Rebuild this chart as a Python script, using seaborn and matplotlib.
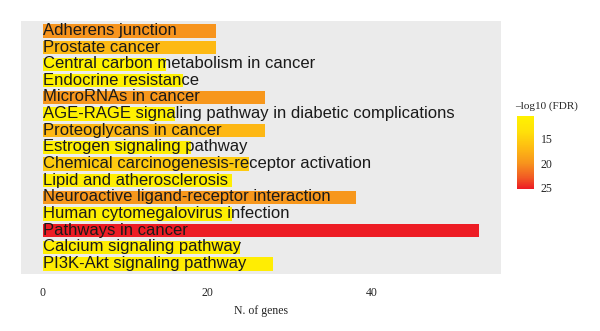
import matplotlib
matplotlib.use("Agg")
import matplotlib.pyplot as plt
import matplotlib.colors as mcolors
import seaborn as sns
import pandas as pd
import numpy as np

terms = [
    "Adherens junction",
    "Prostate cancer",
    "Central carbon metabolism in cancer",
    "Endocrine resistance",
    "MicroRNAs in cancer",
    "AGE-RAGE signaling pathway in diabetic complications",
    "Proteoglycans in cancer",
    "Estrogen signaling pathway",
    "Chemical carcinogenesis-receptor activation",
    "Lipid and atherosclerosis",
    "Neuroactive ligand-receptor interaction",
    "Human cytomegalovirus infection",
    "Pathways in cancer",
    "Calcium signaling pathway",
    "PI3K-Akt signaling pathway",
]
n_genes = [21, 21, 15, 17, 27, 16, 27, 18, 25, 23, 38, 23, 53, 24, 28]
neg_log10_fdr = [20.0, 17.0, 10.2, 10.6, 19.8, 10.6, 17.2, 10.8, 15.5, 11.0, 19.8, 10.8, 25.3, 11.0, 11.2]
cbar_ticks = [15, 20, 25]

df = pd.DataFrame({"term": terms, "genes": n_genes, "fdr": neg_log10_fdr})

cmap = mcolors.LinearSegmentedColormap.from_list(
    "ylred", [(0.0, "#FFF200"), (0.22, "#FFE00A"), (0.45, "#FDB913"),
              (0.65, "#F7941D"), (0.85, "#F15A24"), (1.0, "#ED1C24")])
norm = mcolors.Normalize(vmin=min(neg_log10_fdr), vmax=max(neg_log10_fdr))
colors = [cmap(norm(v)) for v in neg_log10_fdr]

sns.set_theme(style="white")
plt.rcParams["font.family"] = ["Liberation Serif", "DejaVu Serif"]

fig = plt.figure(figsize=(6.0, 3.31), dpi=100)
ax = fig.add_axes([0.035, 0.172, 0.80, 0.765])
ax.set_facecolor("#EBEBEB")

sns.barplot(data=df, x="genes", y="term", hue="term", palette=colors,
            legend=False, width=0.8, ax=ax, saturation=1, orient="h",
            edgecolor="none", linewidth=0)

for i, t in enumerate(terms):
    ax.text(0, i - 0.03, t, ha="left", va="center", fontsize=12,
            family=["Liberation Sans", "DejaVu Sans"], color="#1a1a1a")

ax.set_xlim(-2.65, 55.65)
ax.set_ylim(len(terms) - 0.4, -0.6)
ax.set_xticks([0, 20, 40])
ax.set_xticklabels(["0", "20", "40"], fontsize=8.5)
ax.set_yticks([])
ax.set_ylabel("")
ax.set_xlabel("N. of genes", fontsize=8.5, labelpad=4)
for s in ax.spines.values():
    s.set_visible(False)
ax.tick_params(axis="x", length=2.5, width=0.8, color="#333333", pad=7)

cax = fig.add_axes([0.862, 0.43, 0.028, 0.22])
sm = plt.cm.ScalarMappable(cmap=cmap, norm=norm)
cb = fig.colorbar(sm, cax=cax)
cb.outline.set_visible(False)
cax.invert_yaxis()
cb.set_ticks(cbar_ticks)
cax.tick_params(labelsize=8.5, length=0, pad=5)
cax.text(-0.1, 1.06, "\u2013log10 (FDR)", transform=cax.transAxes, fontsize=8,
         ha="left", va="bottom")

fig.savefig("out.png", dpi=100)
